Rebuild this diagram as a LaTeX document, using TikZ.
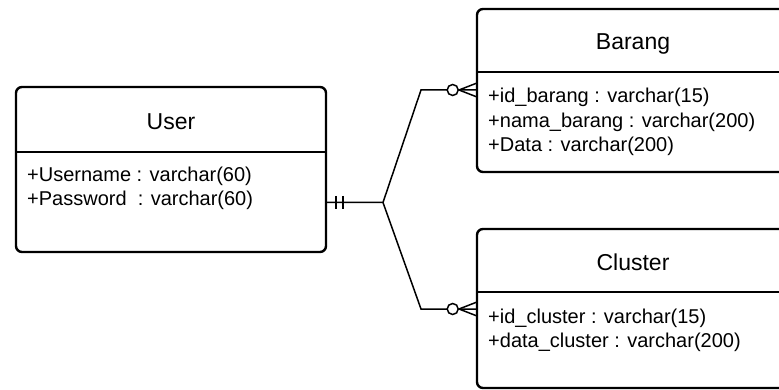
\documentclass[tikz,border=0pt]{standalone}
\usepackage{fontspec}
\setmainfont{Liberation Sans}
\usetikzlibrary{calc}
\begin{document}
\begin{tikzpicture}[x=1pt,y=-1pt,
  entity/.style={draw, line width=2.4pt, rounded corners=6pt, anchor=north west,
                 inner sep=0pt, outer sep=0pt},
  divider/.style={line width=2.4pt},
  title/.style={font=\fontsize{23}{28}\selectfont, anchor=base, inner sep=0pt},
  attr/.style={font=\fontsize{20}{24}\selectfont, anchor=base west, inner sep=0pt},
  rel/.style={line width=1.5pt},
  ring/.style={circle, draw, fill=white, line width=1.5pt, minimum size=11pt, inner sep=0pt}]
\useasboundingbox (0,0) rectangle (779,390);

% entity boxes
\node[entity, minimum width=310pt, minimum height=165pt] (user) at (16,87) {};
\node[entity, minimum width=312pt, minimum height=163pt] (barang) at (477,9) {};
\node[entity, minimum width=312pt, minimum height=159pt] (cluster) at (477,229) {};

% header separators
\draw[divider] (16,152) -- (326,152);
\draw[divider] (477,72) -- (789,72);
\draw[divider] (477,292) -- (789,292);

% titles
\node[title] (tuser) at (171,130) {User};
\node[title] (tbarang) at (633,50) {Barang};
\node[title] (tcluster) at (633,270) {Cluster};

% attributes
\node[attr] (u1) at (27,182) {+Username : varchar(60)};
\node[attr] (u2) at (27,206) {+Password\ \ : varchar(60)};
\node[attr] (b1) at (488,103) {+id\_barang : varchar(15)};
\node[attr] (b2) at (488,128) {+nama\_barang : varchar(200)};
\node[attr] (b3) at (488,152) {+Data : varchar(200)};
\node[attr] (c1) at (488,323) {+id\_cluster : varchar(15)};
\node[attr] (c2) at (488,347) {+data\_cluster : varchar(200)};

% relationship routing
\coordinate (hub) at (383,202.5);
\coordinate (bk) at (421,90);
\coordinate (ck) at (421,309);
\coordinate (uend) at (user.east |- hub);
\coordinate (bend) at (barang.west |- bk);
\coordinate (cend) at (cluster.west |- ck);

\draw[rel] (uend) -- (hub) -- (bk) -- (bend);
\draw[rel] (hub) -- (ck) -- (cend);

% mandatory one on the User side
\draw[rel] ($(uend)+(10,-6.5)$) -- ($(uend)+(10,6.5)$);
\draw[rel] ($(uend)+(17,-6.5)$) -- ($(uend)+(17,6.5)$);

% zero-or-many on the Barang side
\node[ring] (bring) at ($(bend)+(-24.3,0)$) {};
\draw[rel] ($(bend)+(-18,0)$) -- ($(bend)+(0,-7)$);
\draw[rel] ($(bend)+(-18,0)$) -- ($(bend)+(0,7)$);

% zero-or-many on the Cluster side
\node[ring] (cring) at ($(cend)+(-24.3,0)$) {};
\draw[rel] ($(cend)+(-18,0)$) -- ($(cend)+(0,-7)$);
\draw[rel] ($(cend)+(-18,0)$) -- ($(cend)+(0,7)$);
\end{tikzpicture}
\end{document}
